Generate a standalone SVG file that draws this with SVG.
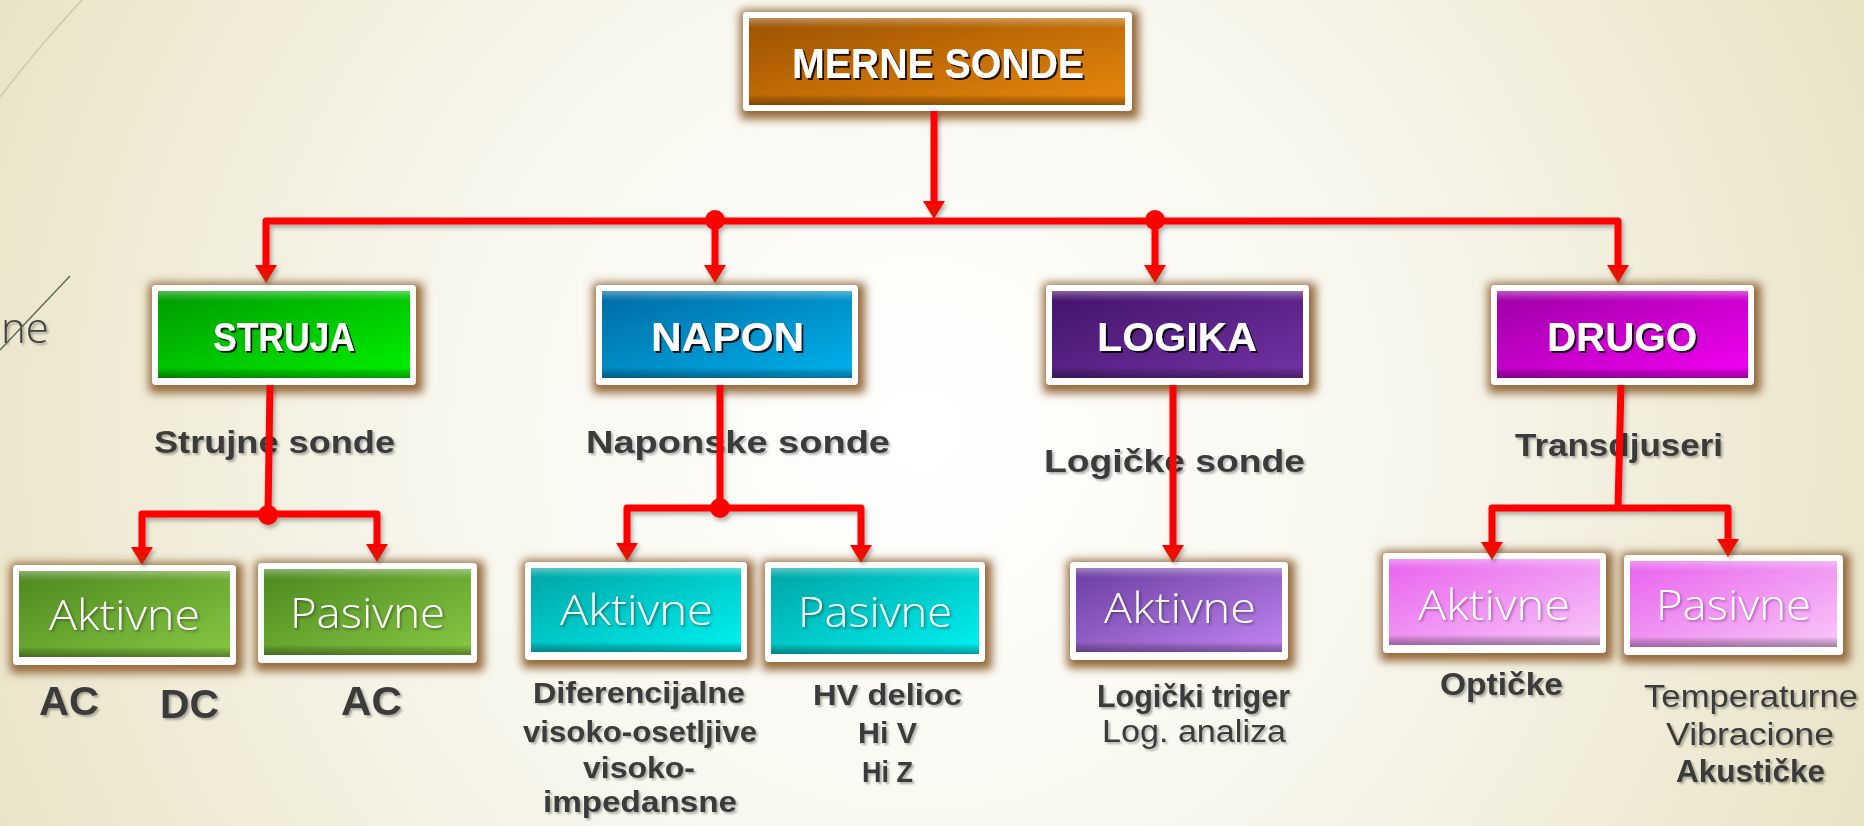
<svg xmlns="http://www.w3.org/2000/svg" width="1864" height="826" viewBox="0 0 1864 826">
<defs>
  <radialGradient id="bg" gradientUnits="userSpaceOnUse" cx="920" cy="430" r="1050">
    <stop offset="0" stop-color="#ffffff"/>
    <stop offset="0.45" stop-color="#f8f7ee"/>
    <stop offset="1" stop-color="#e8e2c4"/>
  </radialGradient>
  <linearGradient id="gRoot" x1="0" y1="0" x2="1" y2="1"><stop offset="0" stop-color="#9a5200"/><stop offset="1" stop-color="#ea870c"/></linearGradient>
  <linearGradient id="gStr" x1="0" y1="0" x2="1" y2="1"><stop offset="0" stop-color="#009a00"/><stop offset="1" stop-color="#00f200"/></linearGradient>
  <linearGradient id="gNap" x1="0" y1="0" x2="1" y2="1"><stop offset="0" stop-color="#006aa2"/><stop offset="1" stop-color="#00b2ee"/></linearGradient>
  <linearGradient id="gLog" x1="0" y1="0" x2="1" y2="1"><stop offset="0" stop-color="#42136a"/><stop offset="1" stop-color="#7332a4"/></linearGradient>
  <linearGradient id="gDru" x1="0" y1="0" x2="1" y2="1"><stop offset="0" stop-color="#9c00a4"/><stop offset="1" stop-color="#f400f4"/></linearGradient>
  <linearGradient id="gStr2" x1="0" y1="0" x2="1" y2="1"><stop offset="0" stop-color="#4c8820"/><stop offset="1" stop-color="#88c842"/></linearGradient>
  <linearGradient id="gNap2" x1="0" y1="0" x2="1" y2="1"><stop offset="0" stop-color="#00a4a4"/><stop offset="1" stop-color="#00f2f2"/></linearGradient>
  <linearGradient id="gLog2" x1="0" y1="0" x2="1" y2="1"><stop offset="0" stop-color="#6a3ea0"/><stop offset="1" stop-color="#c284f2"/></linearGradient>
  <linearGradient id="gDru2" x1="0" y1="0" x2="1" y2="1"><stop offset="0" stop-color="#e862ee"/><stop offset="1" stop-color="#f8c8f8"/></linearGradient>
  <linearGradient id="bevel" x1="0" y1="0" x2="0" y2="1">
    <stop offset="0" stop-color="#ffffff" stop-opacity="0.35"/>
    <stop offset="0.07" stop-color="#ffffff" stop-opacity="0.12"/>
    <stop offset="0.12" stop-color="#ffffff" stop-opacity="0"/>
    <stop offset="0.88" stop-color="#000000" stop-opacity="0"/>
    <stop offset="0.93" stop-color="#000000" stop-opacity="0.18"/>
    <stop offset="1" stop-color="#000000" stop-opacity="0.35"/>
  </linearGradient>
  <linearGradient id="arrowFill" x1="0" y1="0" x2="1" y2="0">
    <stop offset="0" stop-color="#ff0000"/>
    <stop offset="1" stop-color="#d02400"/>
  </linearGradient>
  <filter id="glow" x="-15%" y="-40%" width="130%" height="180%">
    <feMorphology in="SourceAlpha" operator="dilate" radius="5" result="d"/>
    <feGaussianBlur in="d" stdDeviation="5" result="b"/>
    <feFlood flood-color="#94683a" flood-opacity="1"/>
    <feComposite in2="b" operator="in" result="g"/>
    <feOffset dx="2" dy="3"/>
    <feMerge><feMergeNode/><feMergeNode in="SourceGraphic"/></feMerge>
  </filter>
  <filter id="tshDark" x="-10%" y="-30%" width="120%" height="160%">
    <feDropShadow dx="2" dy="2" stdDeviation="0.6" flood-color="#000000" flood-opacity="0.85"/>
  </filter>
  <filter id="tshSoft" x="-10%" y="-30%" width="120%" height="160%">
    <feDropShadow dx="1.5" dy="1.5" stdDeviation="1" flood-color="#202020" flood-opacity="0.5"/>
  </filter>
  <filter id="tshPink" x="-10%" y="-30%" width="120%" height="160%">
    <feDropShadow dx="1.5" dy="1.5" stdDeviation="1" flood-color="#7a2a80" flood-opacity="0.6"/>
  </filter>
  <filter id="tshLabel" x="-10%" y="-30%" width="120%" height="160%">
    <feDropShadow dx="2" dy="2" stdDeviation="1.2" flood-color="#000000" flood-opacity="0.3"/>
  </filter>
  <filter id="lineSh" x="-5%" y="-10%" width="110%" height="130%">
    <feDropShadow dx="2" dy="3" stdDeviation="2" flood-color="#000000" flood-opacity="0.3"/>
  </filter>
  <marker id="arr" viewBox="0 0 18 22" refX="6" refY="11" markerWidth="18" markerHeight="22" markerUnits="userSpaceOnUse" orient="auto">
    <path d="M0,0 L18,11 L0,22 z" fill="url(#arrowFill)"/>
  </marker>
  <style>
    .outer{fill:#ffffff;filter:url(#glow)}
    .bev{fill:url(#bevel)}
    .t1{font-family:"Liberation Sans",Arial,sans-serif;font-weight:bold;fill:#ffffff;text-anchor:middle;filter:url(#tshDark)}
    .t2{font-family:"Open Sans","Liberation Sans",sans-serif;font-weight:300;font-size:42px;fill:#ffffff;text-anchor:middle;filter:url(#tshSoft)}
    .t2p{filter:url(#tshPink)}
    .lbl{font-family:"Liberation Sans",Arial,sans-serif;fill:#3a3a3a;text-anchor:middle;filter:url(#tshLabel)}
    .b{font-weight:bold}
    .conn path{fill:none;stroke:#ff0000;stroke-width:7;stroke-linejoin:round}
    .conn .a{marker-end:url(#arr)}
    .dot{fill:#ff0000}
  </style>
</defs>

<rect x="0" y="0" width="1864" height="826" fill="url(#bg)"/>
<g id="decor">
  <path d="M0,97 Q40,45 82,0" fill="none" stroke="#c9c9b2" stroke-width="1.5"/>
  <text x="1" y="343" font-family="Open Sans, Liberation Sans, sans-serif" font-weight="300" font-size="42" fill="#404040" filter="url(#tshLabel)">ne</text>
  <path d="M0,350 L70,276" fill="none" stroke="#55654a" stroke-width="1.3"/>
</g>

<g id="labels">
  <text class="lbl b" x="274.5" y="453" font-size="32" textLength="241" lengthAdjust="spacingAndGlyphs">Strujne sonde</text>
  <text class="lbl b" x="738" y="453" font-size="32" textLength="304" lengthAdjust="spacingAndGlyphs">Naponske sonde</text>
  <text class="lbl b" x="1174.5" y="472" font-size="32" textLength="261" lengthAdjust="spacingAndGlyphs">Logičke sonde</text>
  <text class="lbl b" x="1619" y="456" font-size="32" textLength="208" lengthAdjust="spacingAndGlyphs">Transdjuseri</text>
  <text class="lbl b" x="69" y="715" font-size="41" textLength="60" lengthAdjust="spacingAndGlyphs">AC</text>
  <text class="lbl b" x="189.5" y="718" font-size="41" textLength="59" lengthAdjust="spacingAndGlyphs">DC</text>
  <text class="lbl b" x="371.5" y="715" font-size="41" textLength="61" lengthAdjust="spacingAndGlyphs">AC</text>
  <text class="lbl b" x="639" y="703" font-size="29" textLength="212" lengthAdjust="spacingAndGlyphs">Diferencijalne</text>
  <text class="lbl b" x="640" y="742" font-size="29" textLength="234" lengthAdjust="spacingAndGlyphs">visoko-osetljive</text>
  <text class="lbl b" x="639" y="778" font-size="29" textLength="112" lengthAdjust="spacingAndGlyphs">visoko-</text>
  <text class="lbl b" x="640" y="812" font-size="29" textLength="194" lengthAdjust="spacingAndGlyphs">impedansne</text>
  <text class="lbl b" x="887.5" y="705" font-size="29" textLength="149" lengthAdjust="spacingAndGlyphs">HV delioc</text>
  <text class="lbl b" x="887.5" y="743" font-size="29" textLength="59" lengthAdjust="spacingAndGlyphs">Hi V</text>
  <text class="lbl b" x="887.5" y="782" font-size="29" textLength="51" lengthAdjust="spacingAndGlyphs">Hi Z</text>
  <text class="lbl b" x="1193.5" y="707" font-size="31" textLength="193" lengthAdjust="spacingAndGlyphs">Logički triger</text>
  <text class="lbl" x="1194" y="742" font-size="31" textLength="184" lengthAdjust="spacingAndGlyphs">Log. analiza</text>
  <text class="lbl b" x="1501.5" y="695" font-size="31" textLength="123" lengthAdjust="spacingAndGlyphs">Optičke</text>
  <text class="lbl" x="1751" y="707" font-size="31" textLength="214" lengthAdjust="spacingAndGlyphs">Temperaturne</text>
  <text class="lbl" x="1750" y="745" font-size="31" textLength="168" lengthAdjust="spacingAndGlyphs">Vibracione</text>
  <text class="lbl b" x="1750.5" y="782" font-size="31" textLength="149" lengthAdjust="spacingAndGlyphs">Akustičke</text>
</g>

<g id="nodes">
  <g id="merne-sonde">
    <rect class="outer" x="743" y="12" width="389" height="99" rx="4"/>
    <rect x="749" y="18" width="376" height="87" fill="url(#gRoot)"/>
    <rect class="bev" x="749" y="18" width="376" height="87"/>
    <text class="t1" x="938" y="78" font-size="42" textLength="292" lengthAdjust="spacingAndGlyphs">MERNE SONDE</text>
  </g>
  <g id="struja">
    <rect class="outer" x="152" y="285" width="264" height="100" rx="4"/>
    <rect x="158" y="291" width="252" height="87" fill="url(#gStr)"/>
    <rect class="bev" x="158" y="291" width="252" height="87"/>
    <text class="t1" x="284" y="351" font-size="40" textLength="142" lengthAdjust="spacingAndGlyphs">STRUJA</text>
  </g>
  <g id="napon">
    <rect class="outer" x="596" y="285" width="262" height="100" rx="4"/>
    <rect x="602" y="291" width="250" height="87" fill="url(#gNap)"/>
    <rect class="bev" x="602" y="291" width="250" height="87"/>
    <text class="t1" x="727.5" y="351" font-size="40" textLength="153" lengthAdjust="spacingAndGlyphs">NAPON</text>
  </g>
  <g id="logika">
    <rect class="outer" x="1046" y="285" width="263" height="100" rx="4"/>
    <rect x="1052" y="291" width="251" height="87" fill="url(#gLog)"/>
    <rect class="bev" x="1052" y="291" width="251" height="87"/>
    <text class="t1" x="1177" y="351" font-size="40" textLength="160" lengthAdjust="spacingAndGlyphs">LOGIKA</text>
  </g>
  <g id="drugo">
    <rect class="outer" x="1491" y="285" width="263" height="100" rx="4"/>
    <rect x="1497" y="291" width="251" height="87" fill="url(#gDru)"/>
    <rect class="bev" x="1497" y="291" width="251" height="87"/>
    <text class="t1" x="1622" y="351" font-size="40" textLength="150" lengthAdjust="spacingAndGlyphs">DRUGO</text>
  </g>
  <g id="struja-aktivne">
    <rect class="outer" x="13" y="565" width="223" height="100" rx="4"/>
    <rect x="19" y="571" width="211" height="86" fill="url(#gStr2)"/>
    <rect class="bev" x="19" y="571" width="211" height="86"/>
    <text class="t2" x="124.5" y="630" textLength="151" lengthAdjust="spacingAndGlyphs">Aktivne</text>
  </g>
  <g id="struja-pasivne">
    <rect class="outer" x="258" y="563" width="219" height="100" rx="4"/>
    <rect x="264" y="569" width="207" height="86" fill="url(#gStr2)"/>
    <rect class="bev" x="264" y="569" width="207" height="86"/>
    <text class="t2" x="367.5" y="628" textLength="155" lengthAdjust="spacingAndGlyphs">Pasivne</text>
  </g>
  <g id="napon-aktivne">
    <rect class="outer" x="525" y="562" width="222" height="98" rx="4"/>
    <rect x="531" y="568" width="210" height="84" fill="url(#gNap2)"/>
    <rect class="bev" x="531" y="568" width="210" height="84"/>
    <text class="t2" x="636.5" y="625" textLength="153" lengthAdjust="spacingAndGlyphs">Aktivne</text>
  </g>
  <g id="napon-pasivne">
    <rect class="outer" x="765" y="562" width="220" height="100" rx="4"/>
    <rect x="771" y="568" width="208" height="86" fill="url(#gNap2)"/>
    <rect class="bev" x="771" y="568" width="208" height="86"/>
    <text class="t2" x="875" y="627" textLength="154" lengthAdjust="spacingAndGlyphs">Pasivne</text>
  </g>
  <g id="logika-aktivne">
    <rect class="outer" x="1070" y="562" width="218" height="98" rx="4"/>
    <rect x="1076" y="568" width="206" height="84" fill="url(#gLog2)"/>
    <rect class="bev" x="1076" y="568" width="206" height="84"/>
    <text class="t2" x="1180" y="623" textLength="152" lengthAdjust="spacingAndGlyphs">Aktivne</text>
  </g>
  <g id="drugo-aktivne">
    <rect class="outer" x="1383" y="553" width="223" height="100" rx="4"/>
    <rect x="1389" y="559" width="211" height="86" fill="url(#gDru2)"/>
    <rect class="bev" x="1389" y="559" width="211" height="86"/>
    <text class="t2 t2p" x="1494" y="620" textLength="152" lengthAdjust="spacingAndGlyphs">Aktivne</text>
  </g>
  <g id="drugo-pasivne">
    <rect class="outer" x="1624" y="555" width="219" height="100" rx="4"/>
    <rect x="1630" y="561" width="207" height="86" fill="url(#gDru2)"/>
    <rect class="bev" x="1630" y="561" width="207" height="86"/>
    <text class="t2 t2p" x="1733.5" y="620" textLength="155" lengthAdjust="spacingAndGlyphs">Pasivne</text>
  </g>
</g>

<g id="connectors" class="conn" filter="url(#lineSh)">
  <path class="a" d="M934,111 V207"/>
  <path class="a" d="M715,221 H266 V271"/>
  <path class="a" d="M715,221 H1618 V271"/>
  <path class="a" d="M715,221 V271"/>
  <path class="a" d="M1155,221 V271"/>
  <circle class="dot" cx="715" cy="220" r="10"/>
  <circle class="dot" cx="1155" cy="220" r="10"/>

  <path d="M270,385 L268,514"/>
  <path class="a" d="M268,514 H142 V553"/>
  <path class="a" d="M268,514 H377 V550"/>
  <circle class="dot" cx="268" cy="515" r="10"/>

  <path d="M720,385 V508"/>
  <path class="a" d="M720,508 H627 V549"/>
  <path class="a" d="M720,508 H861 V551"/>
  <circle class="dot" cx="720" cy="508" r="10"/>

  <path class="a" d="M1173,385 V551"/>

  <path d="M1621,385 L1618,508"/>
  <path class="a" d="M1618,508 H1492 V548"/>
  <path class="a" d="M1618,508 H1728 V545"/>
</g>
</svg>
